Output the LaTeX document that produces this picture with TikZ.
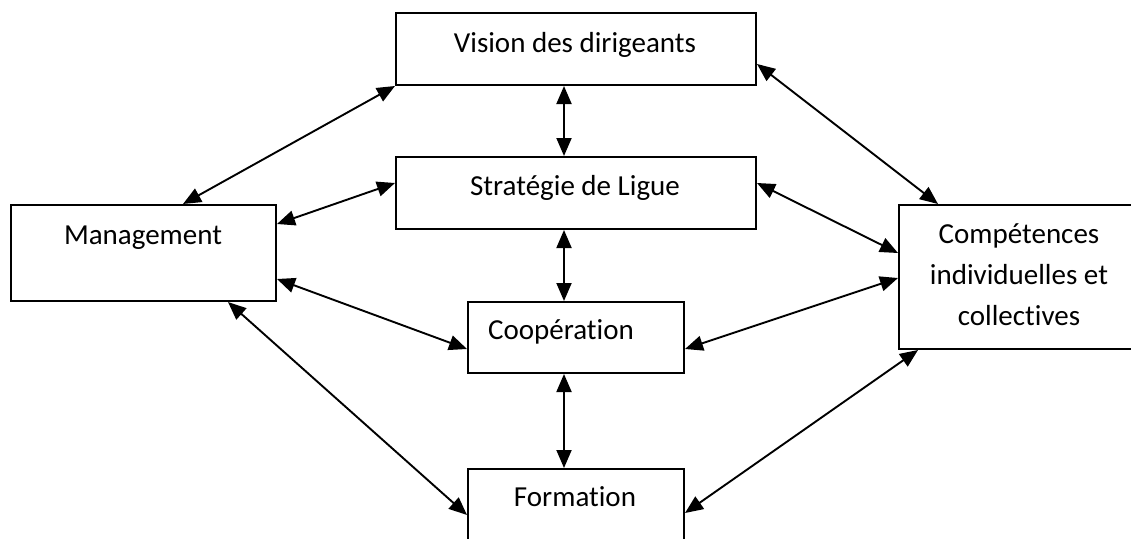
\documentclass[tikz,border=0pt]{standalone}
\usepackage{fontspec}
\setmainfont{Carlito}[Ligatures=NoCommon]
\usetikzlibrary{arrows.meta}
\begin{document}
\begin{tikzpicture}[x=1pt,y=-1pt,
  box/.style={draw, line width=2pt, inner sep=0pt, anchor=north west},
  lbl/.style={font=\fontsize{29}{41}\selectfont, inner sep=0pt, anchor=base, align=center},
  link/.style={line width=1.9pt, {Triangle[length=18pt,width=15pt]}-{Triangle[length=18pt,width=15pt]}}]
\useasboundingbox (0,0) rectangle (1131,538);
\begin{scope}
\clip (0,0) rectangle (1131,538);
\node[box, minimum width=360pt, minimum height=72pt] (vis) at (395,12) {};
\node[box, minimum width=360pt, minimum height=72pt] (str) at (395,156) {};
\node[box, minimum width=216pt, minimum height=71pt] (coop) at (467,301) {};
\node[box, minimum width=216pt, minimum height=90pt] (form) at (467,468) {};
\node[box, minimum width=265pt, minimum height=96pt] (mgmt) at (10,204) {};
\node[box, minimum width=240pt, minimum height=144pt] (comp) at (898,204) {};
\end{scope}
\node[lbl] (visT) at (575,52) {Vision des dirigeants};
\node[lbl] (strT) at (575,195) {Stratégie de Ligue};
\node[lbl] (coopT) at (561,339) {Coopération};
\node[lbl] (mgmtT) at (143,244) {Management};
\node[lbl] (formT) at (575,506) {Formation};
\node[lbl] (compT) at (1019,325) {Compétences\\individuelles et\\collectives};

\draw[link] (vis.south west) -- ([xshift=173pt]mgmt.north west);
\draw[link] ([xshift=-12pt]vis.south) -- ([xshift=-12pt]str.north);
\draw[link] ([yshift=10pt]str.west) -- ([yshift=29pt]mgmt.east);
\draw[link] ([yshift=-15pt]vis.east) -- ([xshift=40pt]comp.north west);
\draw[link] ([yshift=10pt]str.east) -- ([yshift=24pt]comp.west);
\draw[link] ([xshift=-12pt]str.south) -- ([xshift=-12pt]coop.north);
\draw[link] ([yshift=-26pt]mgmt.east) -- ([yshift=-11.5pt]coop.west);
\draw[link] ([yshift=-11.5pt]coop.east) -- ([yshift=-1pt]comp.west);
\draw[link] ([xshift=-12pt]coop.south) -- ([xshift=-12pt]form.north);
\draw[link] ([xshift=218pt]mgmt.south west) -- ([yshift=-47pt]form.north west);
\draw[link] ([yshift=-45pt]form.north east) -- ([xshift=20pt]comp.south west);
\end{tikzpicture}
\end{document}
